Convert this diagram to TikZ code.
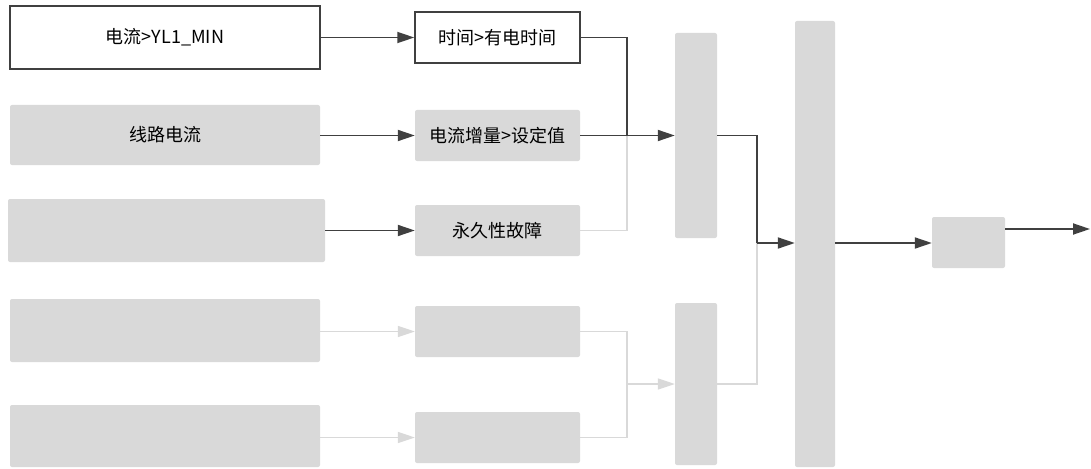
\documentclass[tikz,border=0pt]{standalone}
\usepackage{fontspec}
\newfontfamily\cjk{Noto Sans CJK SC}
\usetikzlibrary{arrows.meta}
\definecolor{boxgray}{HTML}{D9D9D9}
\definecolor{dark}{HTML}{404040}
\tikzset{
  gbox/.style={fill=boxgray, draw=none, rounded corners=2pt, inner sep=0pt, font=\cjk\fontsize{18}{20}\selectfont},
  wbox/.style={fill=white, draw=dark, line width=1.5pt, inner sep=0pt, font=\cjk\fontsize{18}{20}\selectfont},
  conn/.style={draw=dark, line width=1.8pt, -{Triangle[length=17pt,width=11pt]}},
  lconn/.style={draw=boxgray, line width=1.3pt, -{Triangle[length=17pt,width=11pt]}},
  dline/.style={draw=dark, line width=1.8pt},
  lline/.style={draw=boxgray, line width=1.3pt}
}
\begin{document}
\begin{tikzpicture}[x=1pt,y=-1pt]
\useasboundingbox[fill=white] (0,0) rectangle (1091,468);
% column 1
\node[wbox, minimum width=310pt, minimum height=63pt] (A1) at (165,37.5) {电流>YL1\_MIN};
\node[gbox, minimum width=310pt, minimum height=60pt] (A2) at (165,135) {线路电流};
\node[gbox, minimum width=317pt, minimum height=63pt] (A3) at (166.5,230.5) {};
\node[gbox, minimum width=310pt, minimum height=63pt] (A4) at (165,330.5) {};
\node[gbox, minimum width=310pt, minimum height=62pt] (A5) at (165,436) {};
% column 2
\node[wbox, minimum width=165pt, minimum height=51pt] (B1) at (497.5,37.5) {时间>有电时间};
\node[gbox, minimum width=165pt, minimum height=51pt] (B2) at (497.5,135.5) {电流增量>设定值};
\node[gbox, minimum width=165pt, minimum height=51pt] (B3) at (497.5,230.5) {永久性故障};
\node[gbox, minimum width=165pt, minimum height=51pt] (B4) at (497.5,331.5) {};
\node[gbox, minimum width=165pt, minimum height=51pt] (B5) at (497.5,437.5) {};
% column 3
\node[gbox, minimum width=42pt, minimum height=205pt] (C1) at (696,135.5) {};
\node[gbox, minimum width=42pt, minimum height=162pt] (C2) at (696,384) {};
% column 4
\node[gbox, minimum width=40pt, minimum height=446pt] (D) at (815,244) {};
% column 5
\node[gbox, minimum width=73pt, minimum height=51pt] (E) at (968.5,242.5) {};
\coordinate (out) at (1090,229);
% junction coordinates
\coordinate (j1) at (627,135.5);
\coordinate (j2) at (627,384);
\coordinate (j3) at (757,243);
% column 1 -> column 2
\draw[conn] (A1.east |- B1.west) -- (B1.west);
\draw[conn] (A2.east |- B2.west) -- (B2.west);
\draw[conn] (A3.east |- B3.west) -- (B3.west);
\draw[lconn] (A4.east |- B4.west) -- (B4.west);
\draw[lconn] (A5.east |- B5.west) -- (B5.west);
% column 2 -> column 3
\draw[dline] (B1.east) -| (j1);
\draw[lline] (B3.east) -| (j1);
\draw[conn] (B2.east) -- (C1.west |- j1);
\draw[lline] (B4.east) -| (j2);
\draw[lline] (B5.east) -| (j2);
\draw[lconn] (j2) -- (C2.west |- j2);
% column 3 -> column 4
\draw[dline] (C1.east) -| (j3);
\draw[lline] (C2.east) -| (j3);
\draw[conn] (j3) -- (D.west |- j3);
% column 4 -> column 5
\draw[conn] (D.east |- j3) -- (E.west |- j3);
\draw[conn] (E.east |- out) -- (out);
\end{tikzpicture}
\end{document}
